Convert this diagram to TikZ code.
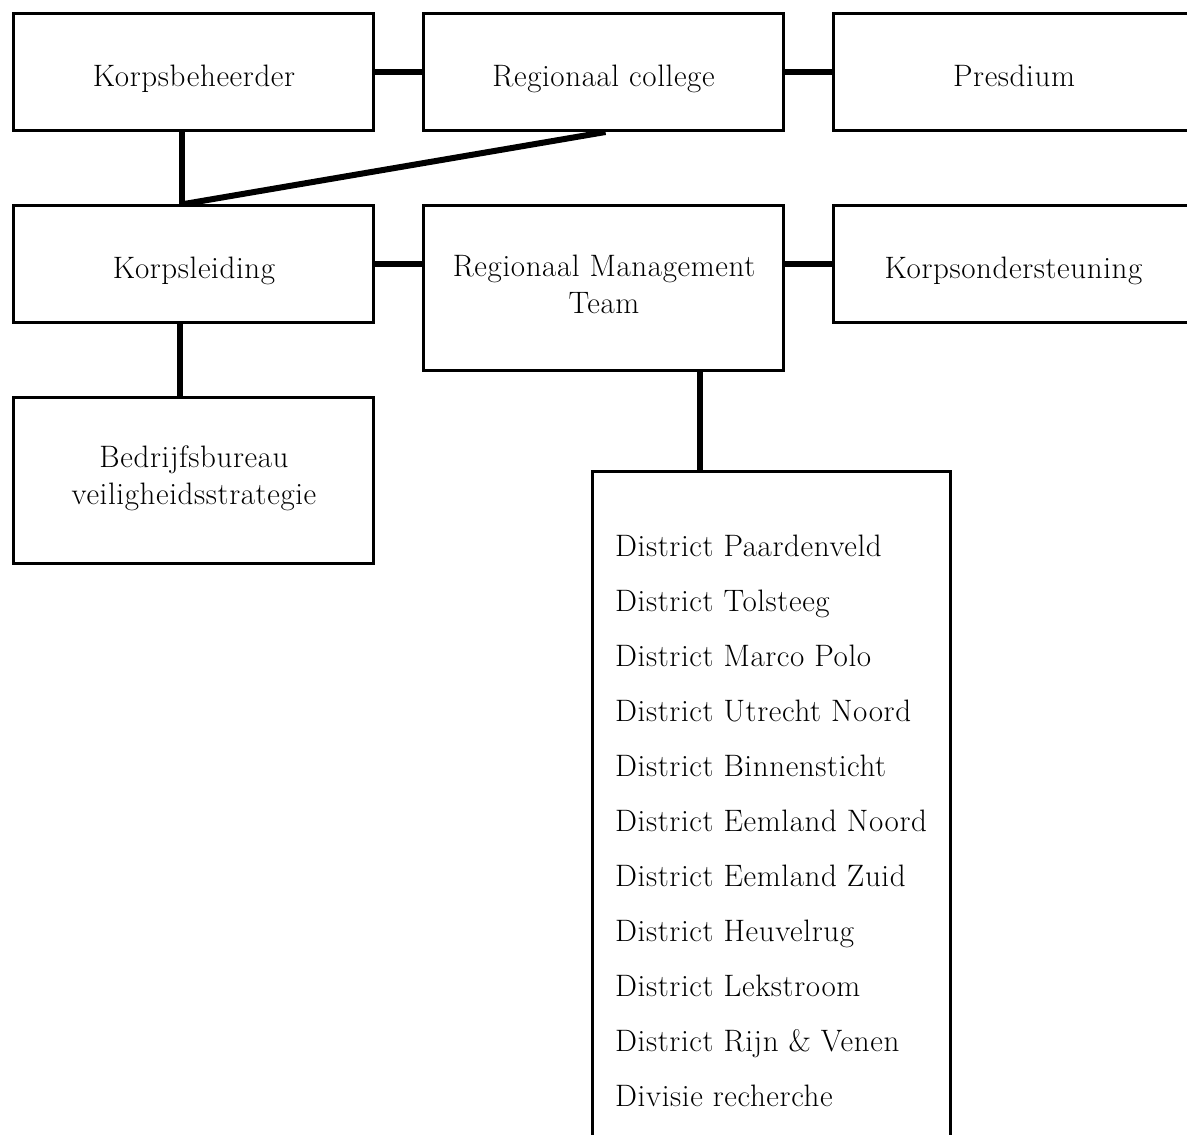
\documentclass[tikz,border=0pt]{standalone}
\usepackage{fontspec}
\setmainfont{Latin Modern Roman}[LetterSpace=2]
\begin{document}
\begin{tikzpicture}[x=1pt,y=-1pt,
  box/.style={draw,line width=3pt,fill=white,minimum width=360pt,minimum height=117pt,inner sep=0pt},
  lbl/.style={inner sep=0pt,text height=20pt,text depth=6pt,font=\fontsize{31}{37}\selectfont},
  mlbl/.style={inner sep=0pt,align=center,anchor=north,font=\fontsize{31}{37}\selectfont},
  link/.style={line width=6pt}]
\clip (0,0) rectangle (1187,1135);
\fill[white] (0,0) rectangle (1187,1135);
% boxes
\node[box] (kb) at (193.5,72) {};
\node[box] (rc) at (603.5,72) {};
\node[box] (pr) at (1013.5,72) {};
\node[box] (kl) at (193.5,264) {};
\node[box,minimum height=165pt] (rmt) at (603.5,288) {};
\node[box] (ko) at (1013.5,264) {};
\node[box,minimum height=166pt] (bb) at (193.5,480.5) {};
\node[box,minimum width=358pt,minimum height=760pt,anchor=north] (dist) at (771.5,469.5) {};
% texts
\node[lbl] (kbt) at (194,79) {Korpsbeheerder};
\node[lbl] (rct) at (603.5,79) {Regionaal college};
\node[lbl] (prt) at (1014,79) {Presdium};
\node[lbl] (klt) at (194,271) {Korpsleiding};
\node[lbl] (kot) at (1013.5,271) {Korpsondersteuning};
\node[mlbl] (rmtt) at (604,255.2) {Regionaal Management\\Team};
\node[mlbl] (bbt) at (194,445.2) {Bedrijfsbureau\\veiligheidsstrategie};
\node[inner sep=0pt,align=left,anchor=north west,font=\fontsize{31}{55}\selectfont] (dlist) at (615,535.2)
 {District Paardenveld\\District Tolsteeg\\District Marco Polo\\District Utrecht Noord\\District Binnensticht\\District Eemland Noord\\District Eemland Zuid\\District Heuvelrug\\District Lekstroom\\District Rijn \& Venen\\Divisie recherche};
% connectors
\draw[link] (kb.east) -- (rc.west);
\draw[link] (rc.east) -- (pr.west);
\draw[link] (kl.east) -- (rmt.west |- kl.east);
\draw[link] (rmt.east |- ko.west) -- (ko.west);
\draw[link] ([xshift=-11.5pt]kb.south) -- ([xshift=-11.5pt]kl.north);
\draw[link] ([xshift=2pt]rc.south) -- ([xshift=-9.5pt]kl.north);
\draw[link] ([xshift=-13.5pt]kl.south) -- ([xshift=-13.5pt]bb.north);
\draw[link] ([xshift=96pt]rmt.south) coordinate (rmtd) -- (rmtd |- dist.north);
\end{tikzpicture}
\end{document}
